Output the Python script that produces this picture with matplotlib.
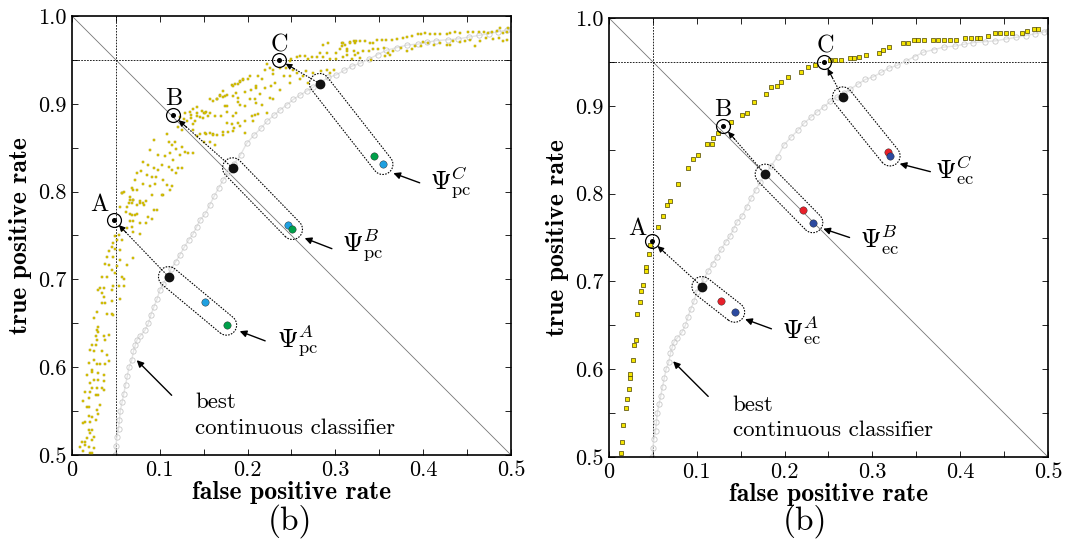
import numpy as np
import matplotlib
matplotlib.use("Agg")
import matplotlib.pyplot as plt
from matplotlib.ticker import FixedLocator, FixedFormatter

plt.rcParams['mathtext.fontset'] = 'cm'
plt.rcParams['axes.unicode_minus'] = False
plt.rcParams['font.family'] = ['cmr10', 'DejaVu Serif']

# ROC curve of the best continuous classifier (shared by both panels)
cont_roc = [
    (.049, .500), (.050, .510), (.051, .520), (.053, .530), (.054, .540), (.055, .550),
    (.057, .560), (.059, .570), (.061, .580), (.063, .590), (.065, .600), (.068, .608),
    (.070, .618), (.072, .625), (.074, .631), (.078, .636), (.083, .642), (.087, .650),
    (.090, .660), (.093, .668), (.097, .678), (.100, .688), (.104, .695), (.108, .703),
    (.113, .712), (.118, .720), (.123, .728), (.128, .737), (.133, .745), (.138, .752),
    (.142, .760), (.146, .768), (.152, .775), (.157, .785), (.162, .795), (.167, .804),
    (.172, .813), (.178, .822), (.185, .832), (.192, .842), (.199, .855), (.207, .864),
    (.215, .872), (.222, .880), (.230, .887), (.237, .893), (.245, .899), (.252, .905),
    (.260, .910), (.268, .915), (.275, .919), (.284, .925), (.292, .930), (.301, .933),
    (.310, .938), (.319, .943), (.328, .946), (.338, .951), (.348, .956), (.358, .961),
    (.370, .964), (.382, .967), (.394, .968), (.404, .970), (.415, .972), (.428, .973),
    (.440, .974), (.452, .976), (.464, .978), (.475, .980), (.485, .982), (.495, .984),
    (.500, .985),
]

# operating points of the pc-combined classifiers
pc_points = [
    (.028, .642), (.030, .640), (.027, .635), (.036, .635), (.042, .637), (.028, .631),
    (.023, .625), (.027, .625), (.038, .631), (.034, .618), (.040, .614), (.021, .620),
    (.025, .618), (.019, .605), (.025, .608), (.028, .604), (.032, .604), (.038, .604),
    (.042, .607), (.023, .597), (.017, .591), (.023, .595), (.030, .593), (.036, .591),
    (.025, .585), (.021, .582), (.036, .584), (.030, .585), (.023, .576), (.028, .576),
    (.034, .576), (.036, .574), (.015, .572), (.021, .572), (.027, .568), (.030, .568),
    (.019, .565), (.013, .561), (.017, .555), (.019, .555), (.032, .557), (.028, .551),
    (.030, .547), (.019, .544), (.023, .543), (.027, .540), (.015, .538), (.021, .538),
    (.013, .536), (.019, .528), (.023, .528), (.021, .525), (.025, .521), (.017, .519),
    (.011, .515), (.015, .515), (.023, .517), (.015, .511), (.009, .509), (.019, .509),
    (.025, .508), (.013, .504), (.021, .502), (.023, .502),
    (.057, .798), (.059, .800), (.070, .802), (.091, .796), (.104, .796), (.066, .791),
    (.070, .791), (.065, .787), (.068, .787), (.074, .785), (.078, .787), (.082, .785),
    (.084, .789), (.055, .783), (.063, .783), (.061, .777), (.066, .775), (.068, .773),
    (.072, .773), (.074, .775), (.093, .779), (.097, .779), (.087, .771), (.091, .769),
    (.066, .766), (.070, .766), (.078, .764), (.084, .764), (.057, .756), (.063, .758),
    (.068, .760), (.070, .754), (.053, .751), (.049, .749), (.051, .745), (.047, .741),
    (.057, .745), (.078, .752), (.046, .737), (.049, .735), (.055, .734), (.042, .732),
    (.040, .726), (.047, .726), (.055, .722), (.070, .724), (.038, .718), (.042, .716),
    (.051, .715), (.063, .716), (.046, .711), (.049, .707), (.034, .703), (.040, .703),
    (.059, .701), (.057, .703), (.032, .690), (.036, .690), (.047, .692), (.053, .692),
    (.059, .692), (.030, .688), (.034, .684), (.046, .688), (.036, .680), (.034, .673),
    (.038, .673), (.046, .675), (.055, .678), (.028, .663), (.040, .661), (.046, .661),
    (.025, .656), (.030, .646), (.047, .659),
    (.182, .921), (.186, .923), (.191, .925), (.195, .927), (.210, .918), (.187, .912),
    (.176, .910), (.172, .908), (.165, .906), (.168, .910), (.189, .902), (.191, .899),
    (.208, .906), (.174, .897), (.176, .891), (.153, .891), (.150, .889), (.142, .889),
    (.134, .891), (.129, .889), (.123, .885), (.127, .883), (.136, .887), (.146, .885),
    (.157, .889), (.187, .889), (.197, .880), (.208, .887), (.131, .880), (.140, .880),
    (.176, .878), (.184, .872), (.121, .874), (.125, .870), (.138, .870), (.146, .866),
    (.153, .866), (.161, .866), (.165, .864), (.172, .868), (.178, .868), (.108, .866),
    (.110, .857), (.114, .853), (.117, .857), (.119, .849), (.125, .851), (.129, .845),
    (.132, .844), (.142, .863), (.150, .857), (.157, .857), (.163, .853), (.093, .859),
    (.089, .847), (.098, .842), (.106, .840), (.112, .844), (.115, .836), (.123, .842),
    (.138, .844), (.081, .834), (.087, .830), (.093, .827), (.098, .825), (.102, .830),
    (.110, .828), (.114, .825), (.121, .827), (.125, .827), (.074, .821), (.079, .823),
    (.085, .819), (.091, .817), (.096, .817), (.104, .813), (.119, .821), (.072, .813),
    (.081, .809), (.089, .806), (.095, .809), (.108, .808), (.114, .806), (.068, .804),
    (.074, .802), (.066, .794), (.070, .791), (.077, .789), (.081, .787), (.057, .798),
    (.102, .796), (.112, .802),
    (.286, .967), (.292, .969), (.307, .969), (.313, .962), (.317, .970), (.322, .969),
    (.282, .958), (.290, .958), (.301, .958), (.313, .956), (.322, .956), (.256, .953),
    (.260, .954), (.265, .954), (.269, .951), (.273, .953), (.279, .953), (.286, .953),
    (.294, .951), (.301, .951), (.309, .953), (.319, .951), (.248, .949), (.250, .951),
    (.222, .945), (.220, .939), (.225, .941), (.229, .939), (.237, .941), (.244, .941),
    (.252, .939), (.256, .935), (.267, .937), (.275, .935), (.284, .937), (.290, .939),
    (.298, .939), (.294, .935), (.203, .932), (.201, .928), (.212, .932), (.216, .928),
    (.229, .934), (.241, .932), (.248, .932), (.248, .924), (.260, .928), (.263, .932),
    (.269, .924), (.191, .926), (.195, .928), (.183, .920), (.189, .922), (.204, .916),
    (.210, .920), (.220, .918), (.227, .920), (.231, .924), (.237, .916), (.214, .911),
    (.172, .915), (.168, .909), (.174, .909), (.183, .909), (.197, .913), (.189, .907),
    (.203, .905), (.225, .907), (.229, .905), (.157, .905), (.161, .903), (.165, .905),
    (.210, .901), (.216, .899), (.197, .897), (.176, .897), (.142, .896), (.138, .894),
    (.148, .892), (.151, .890), (.155, .886), (.163, .886), (.170, .886), (.183, .886),
    (.205, .886), (.212, .888), (.222, .890), (.136, .884), (.142, .886), (.149, .884),
    (.138, .877), (.182, .877), (.189, .878), (.191, .875), (.206, .880), (.151, .867),
    (.157, .867), (.161, .865), (.172, .865), (.183, .869), (.197, .867),
    (.309, .969), (.317, .969), (.321, .971), (.324, .971), (.328, .972), (.334, .971),
    (.339, .969), (.343, .969), (.347, .973), (.353, .973), (.358, .973), (.364, .973),
    (.370, .974), (.377, .975), (.381, .976), (.387, .977), (.394, .979), (.398, .979),
    (.402, .981), (.408, .980), (.413, .980), (.419, .980), (.427, .980), (.431, .981),
    (.436, .982), (.442, .981), (.451, .982), (.457, .982), (.463, .982), (.469, .982),
    (.474, .981), (.478, .982), (.484, .983), (.488, .986), (.491, .981), (.495, .982),
    (.497, .986), (.486, .975), (.491, .971), (.495, .973), (.305, .962), (.313, .960),
    (.321, .960), (.326, .958), (.332, .960), (.338, .960), (.343, .962), (.349, .962),
    (.355, .963), (.360, .958), (.366, .960), (.375, .964), (.381, .960), (.387, .962),
    (.391, .966), (.398, .966), (.406, .969), (.412, .967), (.419, .969), (.427, .967),
    (.434, .971), (.442, .970), (.448, .971), (.453, .973), (.459, .966), (.465, .971),
    (.472, .975), (.480, .974), (.328, .952), (.341, .950), (.357, .954), (.362, .956),
    (.400, .970), (.431, .967), (.307, .966), (.311, .967),
]

# operating points of the ec-combined classifiers
ec_points = [
    (.014, .504), (.015, .517), (.016, .537), (.019, .556), (.021, .566), (.023, .577),
    (.024, .590), (.024, .595), (.027, .610), (.029, .627), (.031, .633), (.032, .663),
    (.035, .677), (.036, .689), (.039, .696), (.042, .712), (.042, .716), (.045, .731),
    (.047, .741), (.056, .762), (.061, .774), (.066, .787), (.069, .792), (.079, .811),
    (.090, .829), (.096, .839), (.101, .844), (.112, .856), (.117, .856), (.119, .863),
    (.124, .869), (.139, .881), (.152, .889), (.157, .892), (.165, .904), (.179, .914),
    (.185, .921), (.191, .922), (.196, .927), (.204, .933), (.219, .939), (.227, .944),
    (.235, .946), (.252, .952), (.257, .952), (.264, .952), (.274, .954), (.279, .954),
    (.285, .956), (.293, .958), (.307, .960), (.312, .964), (.319, .967), (.335, .972),
    (.340, .972), (.347, .975), (.352, .975), (.359, .975), (.369, .975), (.375, .975),
    (.381, .975), (.388, .975), (.395, .975), (.405, .977), (.412, .977), (.419, .977),
    (.422, .977), (.432, .980), (.440, .983), (.445, .983), (.452, .983), (.459, .983),
    (.470, .983), (.476, .985), (.484, .987), (.489, .987),
]

# selected operating points A, B, C
pc_targets = {'A': (.0475, .768), 'B': (.115, .887), 'C': (.236, .950)}
ec_targets = {'A': (.049, .746), 'B': (.130, .877), 'C': (.245, .950)}

# Psi groups: starting classifier, then the two combined classifiers
pc_groups = {
    'A': [(.110, .703), (.151, .674), (.176, .648)],
    'B': [(.183, .827), (.246, .762), (.251, .757)],
    'C': [(.282, .923), (.344, .841), (.354, .831)],
}
ec_groups = {
    'A': [(.106, .694), (.127, .678), (.143, .665)],
    'B': [(.178, .822), (.221, .781), (.232, .767)],
    'C': [(.266, .910), (.318, .847), (.320, .843)],
}
# colours of the two combined classifiers in each group
pc_colors = {'A': ['#1fa0e0', '#00a04a'], 'B': ['#1fa0e0', '#00a04a'], 'C': ['#00a04a', '#1fa0e0']}
ec_colors = {'A': ['#e8202a', '#2c4aa0'], 'B': ['#e8202a', '#2c4aa0'], 'C': ['#e8202a', '#2c4aa0']}

x_ticks = [0, 0.1, 0.2, 0.3, 0.4, 0.5]
x_labels = ['0', '0.1', '0.2', '0.3', '0.4', '0.5']
y_ticks = [0.5, 0.6, 0.7, 0.8, 0.9, 1.0]
y_labels = ['0.5', '0.6', '0.7', '0.8', '0.9', '1.0']

TICK_FS = 16
LABEL_FS = 18.5
TEXT_FS = 16.5
LETTER_FS = 17.5
PSI_FS = 19


def capsule(ax, p0, p1, r=0.0115):
    p0 = np.asarray(p0, float)
    p1 = np.asarray(p1, float)
    d = p1 - p0
    th = np.arctan2(d[1], d[0])
    a1 = np.linspace(th - np.pi / 2, th + np.pi / 2, 40)
    a0 = np.linspace(th + np.pi / 2, th + 3 * np.pi / 2, 40)
    xs = np.concatenate([p1[0] + r * np.cos(a1), p0[0] + r * np.cos(a0), [p1[0] + r * np.cos(a1[0])]])
    ys = np.concatenate([p1[1] + r * np.sin(a1), p0[1] + r * np.sin(a0), [p1[1] + r * np.sin(a1[0])]])
    ax.plot(xs, ys, color='k', lw=0.8, ls=(0, (1.4, 1.2)), zorder=5)


def dotted_arrow(ax, start, target, ring_r=0.0085):
    s = np.asarray(start, float)
    t = np.asarray(target, float)
    u = (t - s) / np.linalg.norm(t - s)
    tip = t - u * ring_r
    ax.plot([s[0], tip[0] - u[0] * 0.01], [s[1], tip[1] - u[1] * 0.01],
            color='k', lw=0.8, ls=(0, (1.4, 1.2)), zorder=5)
    ax.annotate('', xy=tip, xytext=tip - u * 0.012,
                arrowprops=dict(arrowstyle='-|>', color='k', lw=0.8,
                                mutation_scale=9, shrinkA=0, shrinkB=0), zorder=6)


def solid_arrow(ax, tail, head):
    ax.annotate('', xy=head, xytext=tail,
                arrowprops=dict(arrowstyle='-|>', color='k', lw=1.0,
                                mutation_scale=10, shrinkA=0, shrinkB=0), zorder=6)


def setup_axes(ax):
    ax.set_xlim(0, 0.5)
    ax.set_ylim(0.5, 1.0)
    ax.xaxis.set_major_locator(FixedLocator(x_ticks))
    ax.xaxis.set_major_formatter(FixedFormatter(x_labels))
    ax.yaxis.set_major_locator(FixedLocator(y_ticks))
    ax.yaxis.set_major_formatter(FixedFormatter(y_labels))
    ax.xaxis.set_minor_locator(FixedLocator(np.arange(0.05, 0.5, 0.1)))
    ax.yaxis.set_minor_locator(FixedLocator(np.arange(0.55, 1.0, 0.1)))
    ax.tick_params(which='both', direction='in', top=True, right=True,
                   length=4.5, width=0.6, labelsize=TICK_FS, pad=4)
    for sp in ax.spines.values():
        sp.set_linewidth(1.2)
    ax.set_xlabel('false positive rate', fontfamily='cmb10', fontsize=LABEL_FS, labelpad=1)
    ax.set_ylabel('true positive rate', fontfamily='cmb10', fontsize=LABEL_FS, labelpad=4)
    # reference lines
    ax.plot([0, 0.5], [1.0, 0.5], color='#777777', lw=0.6, zorder=1)
    ax.axvline(0.05, color='k', lw=0.6, ls=(0, (2, 1.5)), zorder=1)
    ax.axhline(0.95, color='k', lw=0.6, ls=(0, (2, 1.5)), zorder=1)
    # continuous classifier
    cx, cy = zip(*cont_roc)
    ax.plot(cx, cy, color='#e4e4e4', lw=1.0, zorder=2)
    ax.plot(cx, cy, ls='none', marker='o', ms=3.8, mfc='none', mec='#c8c8c8', mew=0.6, zorder=2)


def draw_targets(ax, targets, label_pos):
    for k, (x, y) in targets.items():
        ax.plot([x], [y], marker='o', ms=10, mfc='none', mec='k', mew=0.9, zorder=7)
        ax.plot([x], [y], marker='o', ms=2.6, color='k', zorder=7)
        lx, ly = label_pos[k]
        ax.text(lx, ly, k, fontsize=LETTER_FS, ha='center', va='center', zorder=8)


def draw_groups(ax, groups, targets, colors):
    for k, pts in groups.items():
        capsule(ax, pts[0], pts[-1])
        dotted_arrow(ax, pts[0], targets[k])
        ax.plot([pts[0][0]], [pts[0][1]], marker='o', ms=6, color='#111111', zorder=7)
        for (x, y), c in zip(pts[1:], colors[k]):
            ax.plot([x], [y], marker='o', ms=5.3, color=c, mec='#222222', mew=0.3, zorder=7)


def best_label(ax, tail, head, tx, ty1, ty2):
    solid_arrow(ax, tail, head)
    ax.text(tx, ty1, 'best', fontsize=TEXT_FS, ha='left', va='center')
    ax.text(tx, ty2, 'continuous classifier', fontsize=TEXT_FS, ha='left', va='center')


fig = plt.figure(figsize=(10.66, 5.4), dpi=100)
axl = fig.add_axes([0.06754, 0.15741, 0.41182, 0.81296])
axr = fig.add_axes([0.57129, 0.15370, 0.41182, 0.81296])

# ---- left panel: pc combinations ----
setup_axes(axl)
px, py = zip(*pc_points)
axl.plot(px, py, ls='none', marker='s', ms=1.7, mfc='#e8d40c', mec='#b09c00', mew=0.35, zorder=3)
draw_targets(axl, pc_targets, {'A': (.031, .785), 'B': (.116, .906), 'C': (.2365, .966)})
draw_groups(axl, pc_groups, pc_targets, pc_colors)
solid_arrow(axl, (.220, .630), (.191, .641))
axl.text(.233, .631, r'$\Psi^{A}_{\mathrm{pc}}$', fontsize=PSI_FS, ha='left', va='center')
solid_arrow(axl, (.296, .735), (.265, .747))
axl.text(.307, .739, r'$\Psi^{B}_{\mathrm{pc}}$', fontsize=PSI_FS, ha='left', va='center')
solid_arrow(axl, (.396, .810), (.366, .821))
axl.text(.408, .810, r'$\Psi^{C}_{\mathrm{pc}}$', fontsize=PSI_FS, ha='left', va='center')
best_label(axl, (.1135, .568), (.0737, .608), .140, .560, .530)

# ---- right panel: ec combinations ----
setup_axes(axr)
ex, ey = zip(*ec_points)
axr.plot(ex, ey, ls='none', marker='s', ms=2.3, mfc='#f4e400', mec='#4a4200', mew=0.5, zorder=3)
draw_targets(axr, ec_targets, {'A': (.0328, .760), 'B': (.130, .895), 'C': (.246, .968)})
draw_groups(axr, ec_groups, ec_targets, ec_colors)
solid_arrow(axr, (.185, .646), (.155, .657))
axr.text(.197, .645, r'$\Psi^{A}_{\mathrm{ec}}$', fontsize=PSI_FS, ha='left', va='center')
solid_arrow(axr, (.274, .750), (.244, .760))
axr.text(.286, .747, r'$\Psi^{B}_{\mathrm{ec}}$', fontsize=PSI_FS, ha='left', va='center')
solid_arrow(axr, (.366, .825), (.331, .834))
axr.text(.371, .827, r'$\Psi^{C}_{\mathrm{ec}}$', fontsize=PSI_FS, ha='left', va='center')
best_label(axr, (.113, .569), (.073, .609), .141, .559, .530)

# panel captions
fig.text(290 / 1066, 1 - 521 / 540, '(b)', fontsize=24, ha='center', va='center')
fig.text(805 / 1066, 1 - 521 / 540, '(b)', fontsize=24, ha='center', va='center')

fig.savefig('out.png', dpi=100)
